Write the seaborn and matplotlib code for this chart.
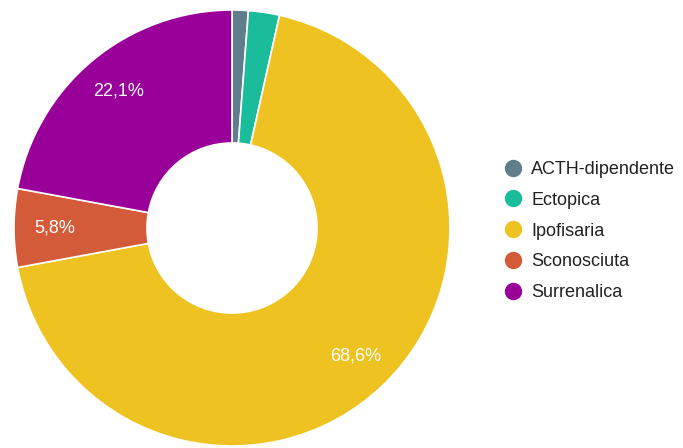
import matplotlib
matplotlib.use("Agg")
import matplotlib.pyplot as plt
from matplotlib.lines import Line2D
import seaborn as sns

categories = ["ACTH-dipendente", "Ectopica", "Ipofisaria", "Sconosciuta", "Surrenalica"]
values = [1.2, 2.3, 68.6, 5.8, 22.1]
colors = ["#607D8B", "#1ABC9C", "#EEC321", "#D35B3A", "#990099"]
label_min = 5.0

sns.set_theme(style="white")
plt.rcParams["font.family"] = ["Liberation Sans", "DejaVu Sans"]

fig = plt.figure(figsize=(6.83, 4.48), dpi=100)
ax = fig.add_axes([14 / 683, 2 / 448, 436 / 683, 436 / 448])

def fmt(p):
    return (f"{p:.1f}%".replace(".", ",")) if p >= label_min else ""

wedges, texts, autotexts = ax.pie(
    values, colors=colors, startangle=90, counterclock=False,
    autopct=fmt, pctdistance=0.815, radius=1.0,
    wedgeprops=dict(width=0.61, edgecolor="white", linewidth=1.2),
    textprops=dict(color="white", fontsize=13),
)
ax.set_xlim(-1, 1)
ax.set_ylim(-1, 1)
ax.set_aspect("equal")
ax.axis("off")

handles = [Line2D([0], [0], marker="o", linestyle="", markersize=11.5,
                  markerfacecolor=c, markeredgecolor=c) for c in colors]
leg = fig.legend(handles, categories, loc="center left",
                 bbox_to_anchor=(504 / 683, 1 - 231 / 448), frameon=False,
                 fontsize=13, handlelength=1.0, handletextpad=0.5,
                 labelspacing=0.76, borderaxespad=0, borderpad=0)
for t in leg.get_texts():
    t.set_color("#222222")

fig.savefig("out.png", dpi=100)
